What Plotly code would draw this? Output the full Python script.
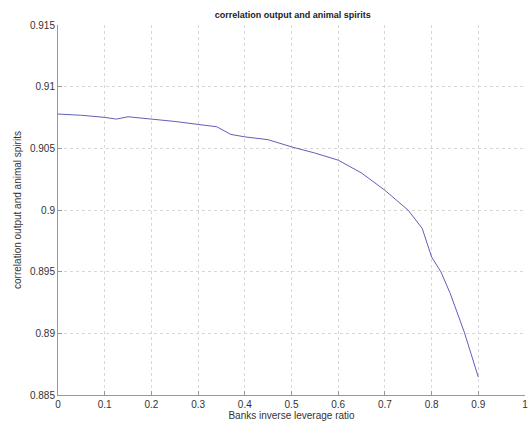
import plotly.graph_objects as go

x_ratio = [0, 0.05, 0.1, 0.125, 0.15, 0.2, 0.25, 0.3, 0.34, 0.37, 0.4, 0.45, 0.5,
           0.55, 0.6, 0.65, 0.7, 0.75, 0.78, 0.8, 0.82, 0.84, 0.87, 0.9]
corr = [0.90778, 0.90768, 0.90751, 0.90737, 0.90756, 0.9074, 0.90718, 0.90694,
        0.90675, 0.90613, 0.90593, 0.9057, 0.90512, 0.90462, 0.90404, 0.90300,
        0.9016, 0.89998, 0.8985, 0.89619, 0.89498, 0.89322, 0.8901, 0.88645]

x_ticks = [0, 0.1, 0.2, 0.3, 0.4, 0.5, 0.6, 0.7, 0.8, 0.9, 1]
x_labels = ["0", "0.1", "0.2", "0.3", "0.4", "0.5", "0.6", "0.7", "0.8", "0.9", "1"]
y_ticks = [0.885, 0.89, 0.895, 0.9, 0.905, 0.91, 0.915]
y_labels = ["0.885", "0.89", "0.895", "0.9", "0.905", "0.91", "0.915"]

fig = go.Figure()
fig.add_trace(go.Scatter(x=x_ratio, y=corr, mode="lines",
                         line=dict(color="#6060b8", width=1), showlegend=False))

font = dict(family="Liberation Sans, Arial", size=10, color="#333333")
fig.update_layout(
    width=529, height=426,
    margin=dict(l=58, r=1, t=25, b=31),
    paper_bgcolor="white", plot_bgcolor="white",
    font=font,
    title=dict(text="<b>correlation output and animal spirits</b>",
               x=0.5535, xanchor="center", y=0.965, yanchor="middle",
               font=dict(family="Liberation Sans, Arial", size=9, color="#222222")),
    xaxis=dict(range=[0, 1], tickvals=x_ticks, ticktext=x_labels,
               showgrid=True, gridcolor="#d8d8d8", griddash="dot", gridwidth=1,
               showline=True, linecolor="#999999", linewidth=1,
               ticks="inside", ticklen=4, tickcolor="#999999",
               zeroline=False, tickfont=font, ticklabeloverflow="allow",
               title=dict(text="Banks inverse leverage ratio", standoff=2,
                          font=dict(family="Liberation Sans, Arial", size=10, color="#333333"))),
    yaxis=dict(range=[0.885, 0.915], tickvals=y_ticks, ticktext=y_labels,
               showgrid=True, gridcolor="#d8d8d8", griddash="dot", gridwidth=1,
               showline=True, linecolor="#999999", linewidth=1,
               ticks="inside", ticklen=4, tickcolor="#999999",
               zeroline=False, tickfont=font,
               title=dict(text="correlation output and animal spirits", standoff=6,
                          font=dict(family="Liberation Sans, Arial", size=10, color="#333333"))),
)

fig.write_html("out.html")
